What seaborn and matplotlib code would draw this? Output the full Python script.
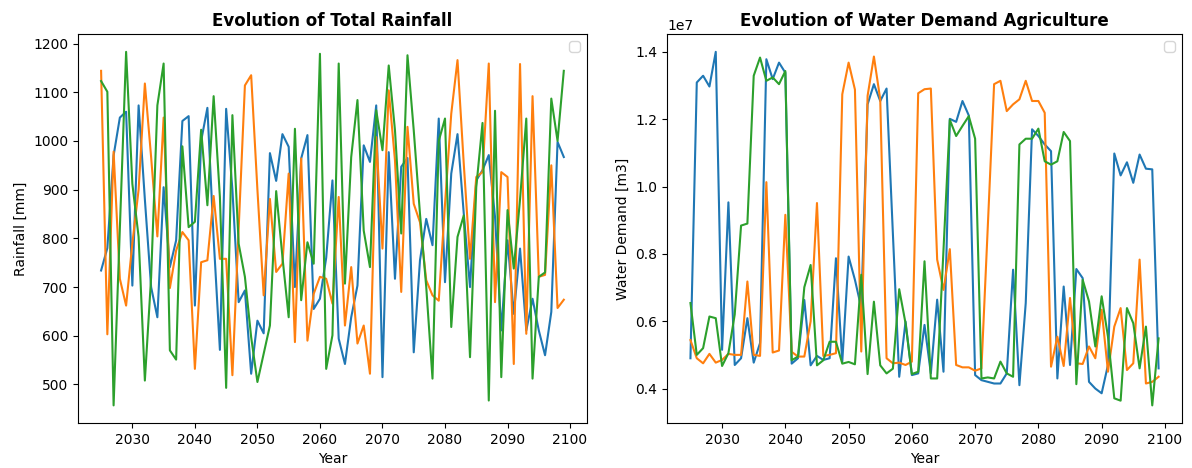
import numpy as np
import seaborn as sns
import matplotlib
matplotlib.use("Agg")
import matplotlib.pyplot as plt

years = list(range(2025, 2100))

# Total rainfall [mm], one list per scenario
rain_a = [734, 780, 970, 1048, 1060, 703, 1073, 880, 700, 638,
          905, 741, 796, 1041, 1051, 662, 1000, 1068, 800, 571,
          1066, 900, 669, 693, 522, 631, 605, 975, 918, 1014,
          988, 700, 964, 1012, 655, 676, 760, 919, 594, 542,
          638, 703, 991, 957, 1073, 515, 977, 717, 947, 965,
          566, 755, 840, 786, 1046, 710, 933, 1014, 851, 700,
          919, 940, 971, 844, 611, 796, 645, 779, 611, 676,
          611, 560, 649, 998, 967]
rain_b = [1144, 603, 978, 717, 662, 790, 900, 1118, 967, 804,
          1048, 698, 775, 813, 796, 532, 751, 755, 887, 758,
          758, 519, 820, 1114, 1135, 900, 683, 881, 731, 748,
          933, 587, 964, 590, 686, 721, 717, 666, 885, 621,
          741, 584, 621, 522, 1008, 779, 1104, 960, 690, 1029,
          871, 833, 714, 683, 672, 870, 1056, 1166, 953, 758,
          926, 936, 1159, 669, 936, 926, 542, 1158, 604, 1092,
          721, 725, 950, 657, 674]
rain_c = [1123, 1101, 457, 820, 1183, 912, 803, 508, 720, 1073,
          1159, 570, 551, 989, 823, 834, 1023, 868, 1092, 885,
          493, 1053, 789, 721, 597, 505, 563, 621, 897, 762,
          638, 1025, 673, 792, 748, 1179, 532, 601, 1159, 707,
          967, 1084, 816, 741, 1063, 981, 1155, 1022, 810, 1176,
          1022, 850, 700, 512, 1000, 1046, 618, 803, 847, 556,
          905, 1037, 467, 1062, 515, 858, 738, 880, 1046, 512,
          721, 730, 1087, 1000, 1144]

# Agricultural water demand, in units of 1e7 m3
demand_a = [0.490, 1.309, 1.329, 1.297, 1.400, 0.515, 0.953, 0.470, 0.490, 0.609,
            0.477, 0.535, 1.378, 1.319, 1.368, 1.338, 0.474, 0.490, 0.663, 0.469,
            0.497, 0.485, 0.490, 0.787, 0.480, 0.792, 0.723, 0.640, 1.244, 1.304,
            1.254, 1.291, 0.860, 0.435, 0.599, 0.440, 0.445, 0.589, 0.445, 0.664,
            0.450, 1.201, 1.192, 1.254, 1.211, 0.440, 0.425, 0.420, 0.415, 0.415,
            0.445, 0.753, 0.410, 0.654, 1.170, 1.150, 1.125, 1.105, 0.430, 0.703,
            0.470, 0.755, 0.728, 0.420, 0.400, 0.386, 0.470, 1.098, 1.033, 1.072,
            1.011, 1.095, 1.053, 1.051, 0.460]
demand_b = [0.544, 0.490, 0.475, 0.503, 0.477, 0.485, 0.503, 0.500, 0.500, 0.718,
            0.500, 0.497, 1.013, 0.507, 0.513, 0.916, 0.509, 0.495, 0.495, 0.600,
            0.951, 0.497, 0.500, 0.505, 1.274, 1.368, 1.288, 0.510, 1.269, 1.386,
            1.259, 0.490, 0.475, 0.477, 0.470, 0.480, 1.277, 1.289, 1.291, 0.783,
            0.693, 0.814, 0.470, 0.463, 0.463, 0.453, 0.460, 0.880, 1.304, 1.314,
            1.224, 1.244, 1.259, 1.314, 1.254, 1.254, 1.219, 0.465, 0.554, 0.467,
            0.669, 0.475, 0.473, 0.525, 0.490, 0.634, 0.450, 0.584, 0.639, 0.455,
            0.475, 0.783, 0.415, 0.420, 0.435]
demand_c = [0.654, 0.500, 0.520, 0.614, 0.609, 0.467, 0.505, 0.620, 0.884, 0.890,
            1.329, 1.383, 1.314, 1.324, 1.304, 1.343, 0.484, 0.495, 0.701, 0.767,
            0.469, 0.484, 0.539, 0.539, 0.474, 0.479, 0.472, 0.738, 0.443, 0.658,
            0.469, 0.445, 0.459, 0.695, 0.594, 0.443, 0.450, 0.778, 0.430, 0.430,
            0.812, 1.198, 1.150, 1.180, 1.209, 1.142, 0.430, 0.433, 0.430, 0.480,
            0.445, 0.435, 1.125, 1.142, 1.142, 1.172, 1.075, 1.065, 1.075, 1.162,
            1.135, 0.413, 0.723, 0.659, 0.525, 0.674, 0.554, 0.371, 0.364, 0.639,
            0.594, 0.460, 0.584, 0.350, 0.549]

fig = plt.figure(figsize=(11.92, 4.68), dpi=100)
ax1 = fig.add_axes([0.0654, 0.096, 0.427, 0.831])
ax2 = fig.add_axes([0.5596, 0.096, 0.432, 0.831])

# Left: rainfall
for series in (rain_a, rain_b, rain_c):
    sns.lineplot(x=years, y=series, ax=ax1)
ax1.set_title("Evolution of Total Rainfall", fontweight="bold")
ax1.set_xlabel("Year")
ax1.set_ylabel("Rainfall [mm]")
ax1.legend(loc="upper right")

# Right: water demand
for series in (demand_a, demand_b, demand_c):
    sns.lineplot(x=years, y=np.array(series) * 1e7, ax=ax2)
ax2.set_title("Evolution of Water Demand Agriculture", fontweight="bold")
ax2.set_xlabel("Year")
ax2.set_ylabel("Water Demand [m3]")
ax2.legend(loc="upper right")

fig.savefig("out.png", dpi=100)
